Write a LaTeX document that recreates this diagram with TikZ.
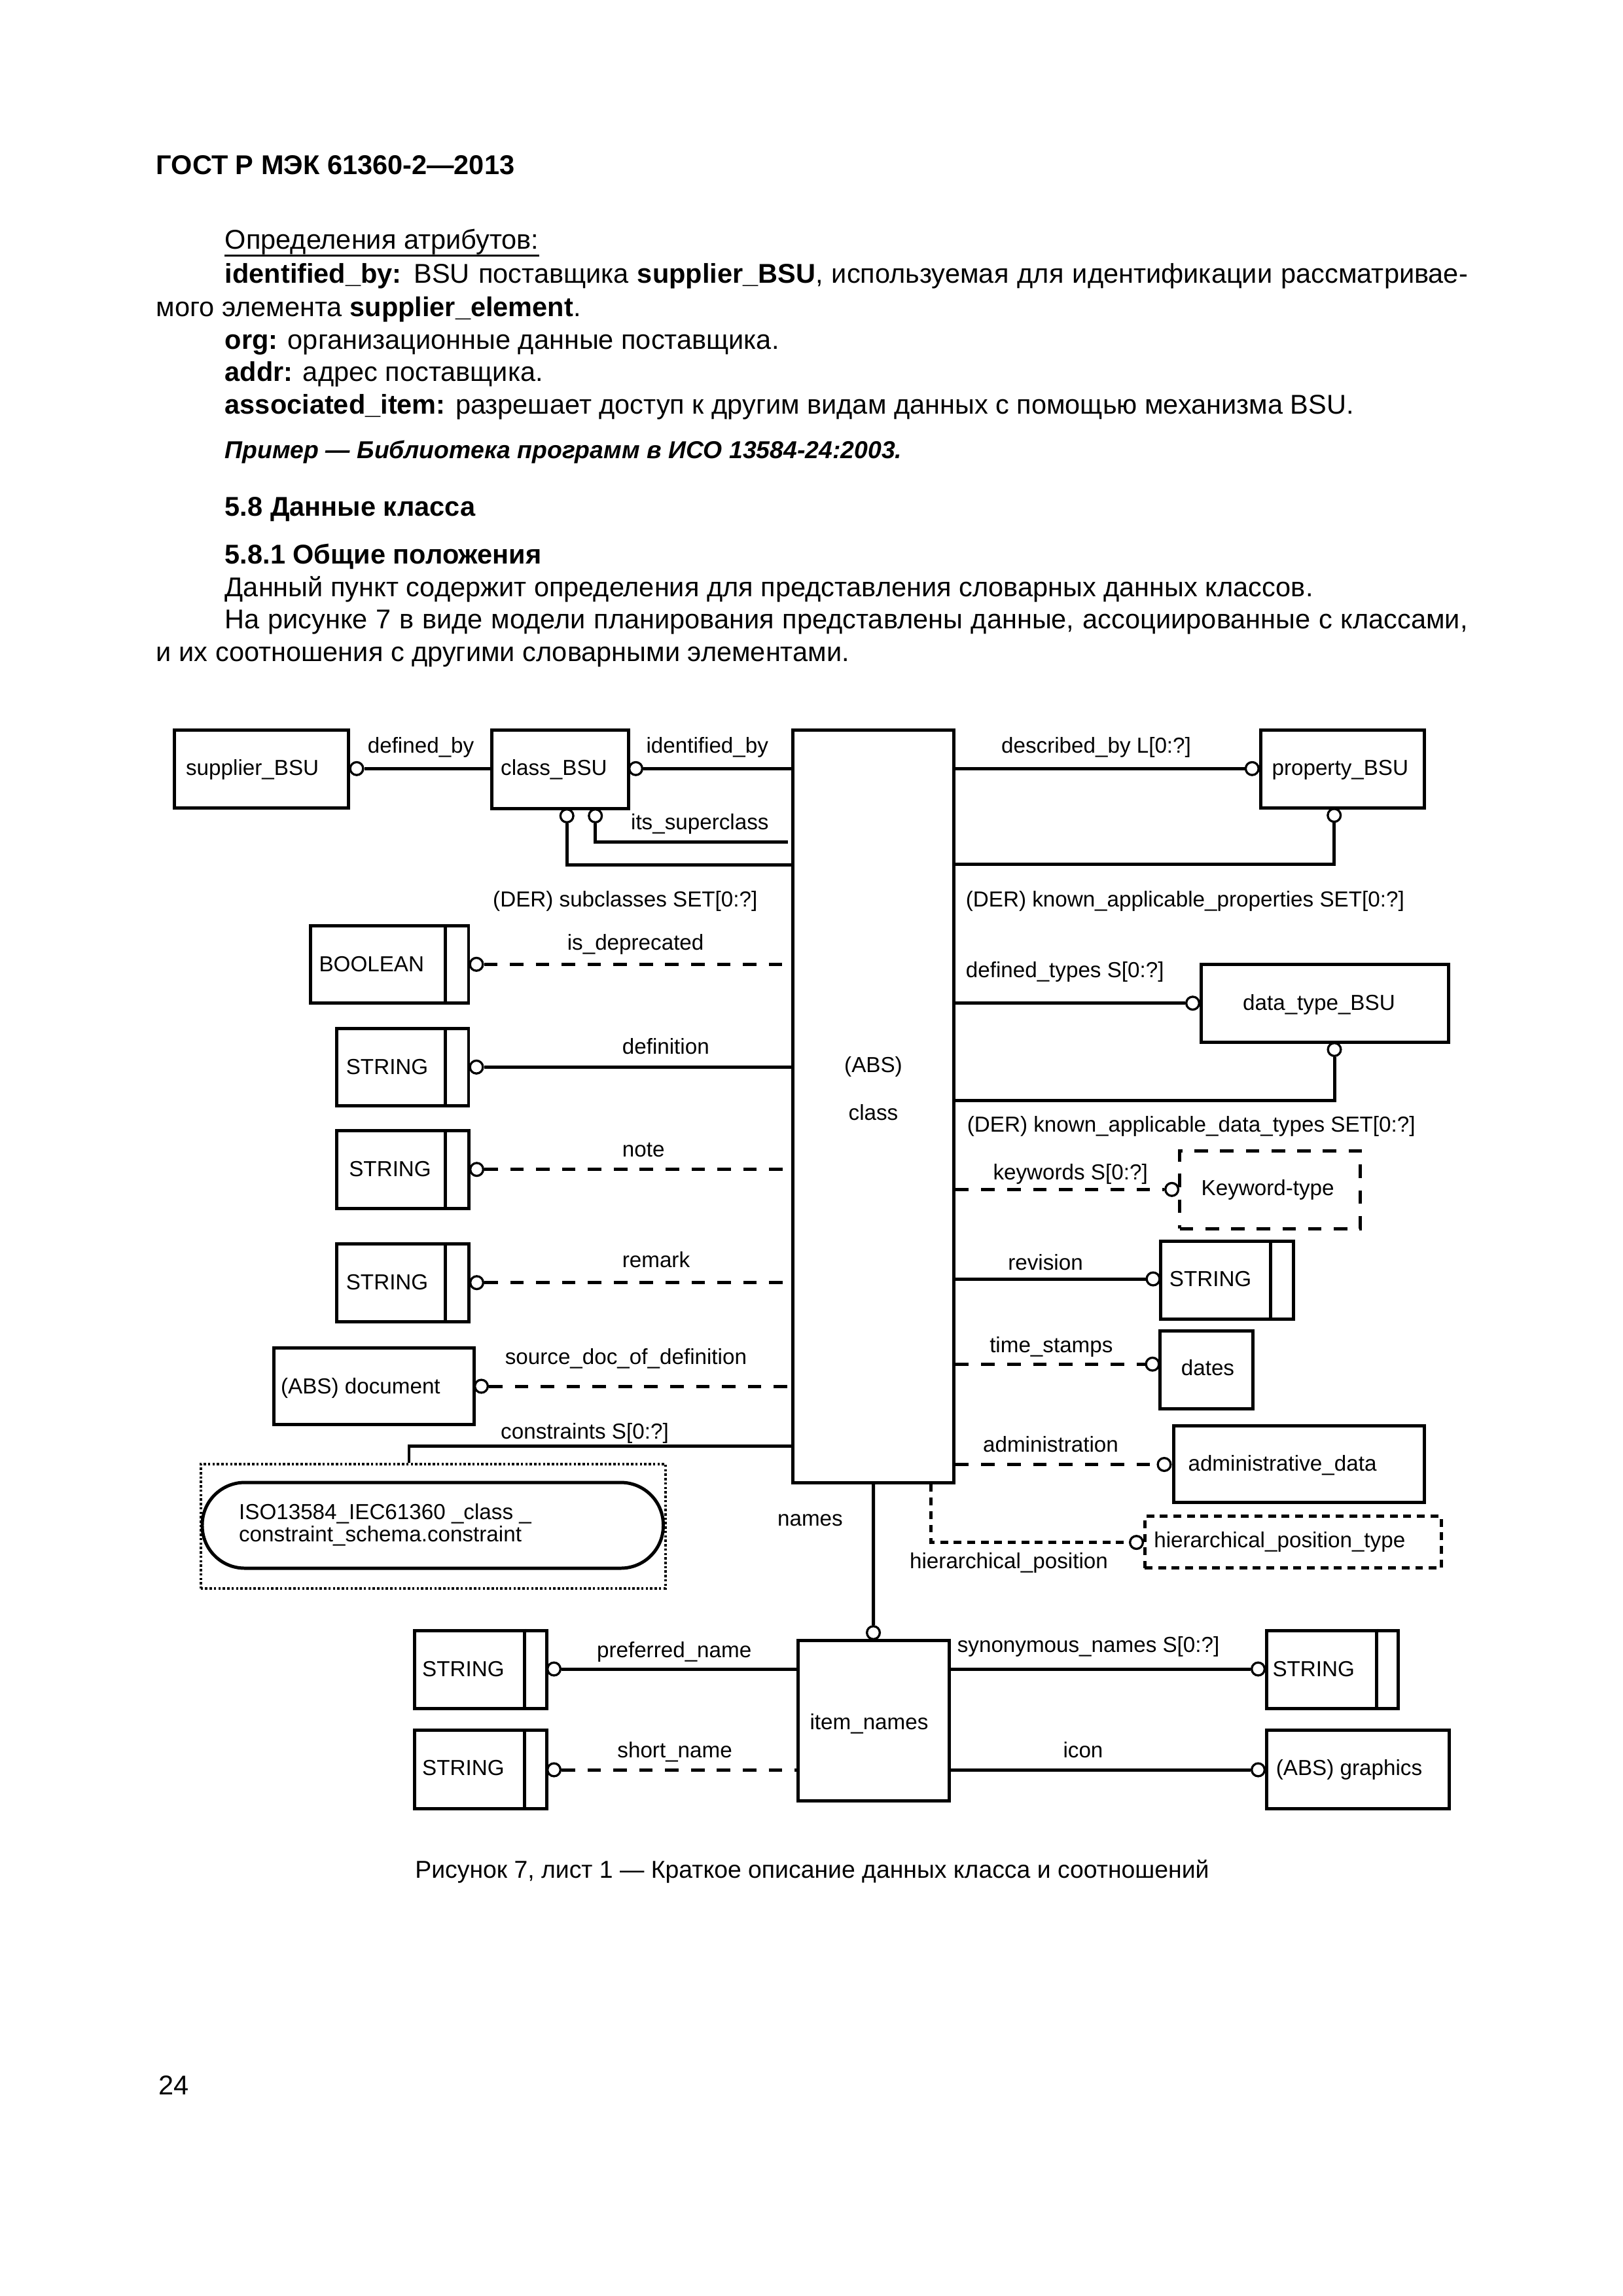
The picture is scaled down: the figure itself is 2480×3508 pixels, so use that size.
\documentclass[tikz,border=0pt]{standalone}
\usepackage{fontspec}
\setmainfont{Liberation Sans}
\usetikzlibrary{fit,calc}
\newcommand\dgfont{\fontsize{8}{9.6}\selectfont}
\newcommand\bdfont{\fontsize{10}{12}\selectfont}
\begin{document}
\begin{tikzpicture}[x=0.084667mm,y=-0.084667mm,
  ln/.style={line width=1.2pt},
  dln/.style={line width=1.2pt, dash pattern=on 1.75mm off 1.6mm},
  sdln/.style={line width=1.2pt, dash pattern=on 1mm off 0.75mm},
  ebox/.style={draw, line width=1.2pt, inner sep=0pt},
  dotbox/.style={draw, line width=1pt, inner sep=0pt, dash pattern=on 0.3mm off 0.27mm},
  kwbox/.style={draw, line width=1.2pt, inner sep=0pt, dash pattern=on 1.75mm off 1.57mm},
  hpbox/.style={draw, line width=1.2pt, inner sep=0pt, dash pattern=on 1mm off 0.75mm},
  circ/.style={circle, draw, line width=0.8pt, fill=white, minimum size=1.67mm, inner sep=0pt},
  lbl/.style={font=\dgfont, inner sep=0pt, anchor=base west},
  clbl/.style={font=\dgfont, inner sep=0pt, anchor=base},
  bt/.style={font=\bdfont, inner sep=0pt, anchor=base west}]
\useasboundingbox (0,0) rectangle (2480,3508);

% ---------------- body text ----------------
\node[bt, font=\bdfont\bfseries] (hdr) at (238,266) {ГОСТ Р МЭК 61360-2—2013};
\node[bt] (t1) at (343,380) {Определения атрибутов:};
\draw[line width=0.7pt] ([yshift=-0.9mm]t1.base west) -- ([yshift=-0.9mm]t1.base east);
\node[bt] (t2) at (343,432) {\makebox[160.78mm][s]{\textbf{identified\_by:} BSU поставщика \textbf{supplier\_BSU}, используемая для идентификации рассматривае-}};
\node[bt] (t3) at (238,483) {мого элемента \textbf{supplier\_element}.};
\node[bt] (t4) at (343,533) {\textbf{org:} организационные данные поставщика.};
\node[bt] (t5) at (343,582) {\textbf{addr:} адрес поставщика.};
\node[bt] (t6) at (343,632) {\textbf{associated\_item:} разрешает доступ к другим видам данных с помощью механизма BSU.};
\node[bt, font=\fontsize{9}{11}\selectfont\bfseries\itshape] (t7) at (343,700) {Пример — Библиотека программ в ИСО 13584-24:2003.};
\node[bt, font=\bdfont\bfseries] (t8) at (343,788) {5.8 Данные класса};
\node[bt, font=\bdfont\bfseries] (t9) at (343,861) {5.8.1 Общие положения};
\node[bt] (t10) at (343,911) {Данный пункт содержит определения для представления словарных данных классов.};
\node[bt] (t11) at (343,960) {\makebox[160.78mm][s]{На рисунке 7 в виде модели планирования представлены данные, ассоциированные с классами,}};
\node[bt] (t12) at (238,1010) {и их соотношения с другими словарными элементами.};

% ---------------- boxes ----------------
\node[ebox, fit={(266.7,1115) (532.7,1234)}] (sup) {};
\node[ebox, fit={(751,1115) (960,1235)}] (cbsu) {};
\node[ebox, fit={(1211.7,1115.7) (1457.3,2265)}] (cls) {};
\node[ebox, fit={(1926,1115) (2176.7,1234)}] (pbsu) {};
\node[ebox, fit={(1835,1473.3) (2213.3,1592)}] (dtb) {};
\node[ebox, fit={(474.3,1414.3) (716,1532.7)}] (bool) {};
\node[ebox, fit={(514.3,1571.7) (716,1689.8)}] (str1) {};
\node[ebox, fit={(514.6,1727.6) (716.8,1846.4)}] (str2) {};
\node[ebox, fit={(514.6,1900) (716.8,2019.9)}] (str3) {};
\node[ebox, fit={(418.3,2059.3) (724,2176.7)}] (doc) {};
\node[dotbox, fit={(306.7,2236.7) (1016.8,2426.7)}] (cbox) {};
\node[ebox, rounded corners=5.5mm, fit={(309,2265) (1013.5,2396)}] (stad) {};
\node[kwbox, fit={(1802.7,1758.2) (2078.6,1877)}] (kw) {};
\node[ebox, fit={(1773.9,1896.4) (1976.8,2015.3)}] (str4) {};
\node[ebox, fit={(1772.6,2033.7) (1914.5,2152.6)}] (dates) {};
\node[ebox, fit={(1793.3,2178) (2176.4,2295.4)}] (adm) {};
\node[hpbox, fit={(1749.1,2316.8) (2202.5,2395.9)}] (hpt) {};
\node[ebox, fit={(1219.3,2506.7) (1450,2751)}] (itn) {};
\node[ebox, fit={(633.5,2491.2) (835.2,2610.9)}] (str5) {};
\node[ebox, fit={(633.5,2643.5) (835.2,2763.4)}] (str6) {};
\node[ebox, fit={(1935,2491.2) (2136.8,2610.9)}] (str7) {};
\node[ebox, fit={(1935,2643.5) (2214.8,2763.4)}] (gr) {};

% inner bars of the simple-type boxes
\foreach \b/\w in {bool/38,str1/38,str2/39,str3/39,str4/37.5,str5/36,str6/36,str7/36}{
  \draw[ln] ($(\b.north east)+(-\w,0)$) -- ($(\b.south east)+(-\w,0)$);
}

% ---------------- box texts ----------------
\node[lbl] at (283.3,1184) {supplier\_BSU};
\node[lbl] at (764.4,1184) {class\_BSU};
\node[lbl] at (1942.7,1184) {property\_BSU};
\node[lbl] at (1898.3,1543) {data\_type\_BSU};
\node[clbl] at (1334.5,1638) {(ABS)};
\node[clbl] at (1334.5,1711) {class};
\node[lbl] at (486.7,1484) {BOOLEAN};
\node[lbl] at (528,1641) {STRING};
\node[lbl] at (532.5,1797) {STRING};
\node[lbl] at (528,1970) {STRING};
\node[lbl] at (428.3,2129) {(ABS) document};
\node[lbl] at (364.3,2321.7) {ISO13584\_IEC61360 \_class \_};
\node[lbl] at (364.3,2355) {constraint\_schema.constraint};
\node[lbl] at (1834.8,1826) {Keyword-type};
\node[lbl] at (1786,1965) {STRING};
\node[lbl] at (1804,2101.5) {dates};
\node[lbl] at (1814.7,2247) {administrative\_data};
\node[lbl] at (1762.5,2364.3) {hierarchical\_position\_type};
\node[clbl] at (1328,2642) {item\_names};
\node[lbl] at (644.4,2561) {STRING};
\node[lbl] at (644.4,2712) {STRING};
\node[lbl] at (1943.7,2561) {STRING};
\node[lbl] at (1949,2712) {(ABS) graphics};

% ---------------- circles ----------------
\node[circ] (csup) at (545,1174.3) {};
\node[circ] (ccb) at (971.5,1174.3) {};
\node[circ] (csub) at (866.2,1246.5) {};
\node[circ] (csuper) at (909.7,1246.5) {};
\node[circ] (cpb) at (1913.3,1174.3) {};
\node[circ] (cpb2) at (2038.7,1245.7) {};
\node[circ] (cdt) at (1822.5,1532.7) {};
\node[circ] (cdt2) at (2039,1603.5) {};
\node[circ] (cbool) at (728,1473.3) {};
\node[circ] (cdef) at (728,1630.3) {};
\node[circ] (cnote) at (728.5,1786.7) {};
\node[circ] (crem) at (728.5,1959.7) {};
\node[circ] (cdoc) at (735.5,2118) {};
\node[circ] (ckw) at (1790.6,1817.3) {};
\node[circ] (crev) at (1762,1954) {};
\node[circ] (cts) at (1761,2084.2) {};
\node[circ] (cadm) at (1779,2237.5) {};
\node[circ] (chp) at (1736.5,2356.6) {};
\node[circ] (cnm) at (1334.5,2494.5) {};
\node[circ] (cpref) at (846.5,2550) {};
\node[circ] (cshort) at (846.5,2704) {};
\node[circ] (csyn) at (1922.5,2550) {};
\node[circ] (cicon) at (1922.5,2704) {};

% ---------------- bend points ----------------
\coordinate (bsuper) at (909.7,1286.7);
\coordinate (bsub) at (866.2,1321.1);
\coordinate (bpb) at (2038.7,1320.7);
\coordinate (bdt) at (2039,1681.6);
\coordinate (bcon) at (625,2209.3);
\coordinate (bhp) at (1422.5,2356.6);

% ---------------- connectors ----------------
\draw[ln] (csup.east) -- (cbsu.west |- csup.east);
\draw[ln] (ccb.east) -- (cls.west |- ccb.east);
\draw[ln, shorten >=0.45mm] (csuper.south) -- (bsuper) -- (bsuper -| cls.west);
\draw[ln] (csub.south) -- (bsub) -- (bsub -| cls.west);
\draw[ln] (cls.east |- cpb.west) -- (cpb.west);
\draw[ln] (cpb2.south) -- (bpb) -- (bpb -| cls.east);
\draw[ln] (cls.east |- cdt.west) -- (cdt.west);
\draw[ln] (cdt2.south) -- (bdt) -- (bdt -| cls.east);
\draw[dln] (cbool.east) -- (cls.west |- cbool.east);
\draw[ln] (cdef.east) -- (cls.west |- cdef.east);
\draw[dln] (cnote.east) -- (cls.west |- cnote.east);
\draw[dln] (crem.east) -- (cls.west |- crem.east);
\draw[dln] (cdoc.east) -- (cls.west |- cdoc.east);
\draw[ln] (bcon -| cls.west) -- (bcon) -- (bcon |- cbox.north);
\draw[ln] (cls.south) -- (cnm.north);
\draw[sdln] (bhp |- cls.south) -- (bhp) -- (chp.west);
\draw[dln] (cls.east |- ckw.west) -- (ckw.west);
\draw[ln] (cls.east |- crev.west) -- (crev.west);
\draw[dln] (cls.east |- cts.west) -- (cts.west);
\draw[dln] (cls.east |- cadm.west) -- (cadm.west);
\draw[ln] (cpref.east) -- (itn.west |- cpref.east);
\draw[dln] (cshort.east) -- (itn.west |- cshort.east);
\draw[ln] (itn.east |- csyn.west) -- (csyn.west);
\draw[ln] (itn.east |- cicon.west) -- (cicon.west);

% ---------------- connector labels ----------------
\node[lbl] at (561,1150) {defined\_by};
\node[lbl] at (986.7,1150) {identified\_by};
\node[lbl] at (963.3,1267.5) {its\_superclass};
\node[lbl] at (752.4,1385) {(DER) subclasses SET[0:?]};
\node[lbl] at (1529.3,1150) {described\_by L[0:?]};
\node[lbl] at (1475,1385) {(DER) known\_applicable\_properties SET[0:?]};
\node[lbl] at (1475,1493) {defined\_types S[0:?]};
\node[lbl] at (1477,1729) {(DER) known\_applicable\_data\_types SET[0:?]};
\node[lbl] at (866,1451) {is\_deprecated};
\node[lbl] at (950,1610) {definition};
\node[lbl] at (950,1767) {note};
\node[lbl] at (950,1936) {remark};
\node[lbl] at (771,2084) {source\_doc\_of\_definition};
\node[lbl] at (764.4,2198.5) {constraints S[0:?]};
\node[lbl] at (1187.3,2331.7) {names};
\node[lbl] at (1389.3,2396.7) {hierarchical\_position};
\node[lbl] at (1516.7,1802) {keywords S[0:?]};
\node[lbl] at (1539.5,1940) {revision};
\node[lbl] at (1511.4,2066) {time\_stamps};
\node[lbl] at (1501.3,2218) {administration};
\node[lbl] at (911.2,2532.6) {preferred\_name};
\node[lbl] at (942.6,2685.5) {short\_name};
\node[lbl] at (1462,2524) {synonymous\_names S[0:?]};
\node[lbl] at (1623.7,2685.5) {icon};

% ---------------- caption and page number ----------------
\node[bt, font=\fontsize{9}{11}\selectfont] (cap) at (633.5,2869) {Рисунок 7, лист 1 — Краткое описание данных класса и соотношений};
\node[bt] (pg) at (242,3200) {24};
\end{tikzpicture}
\end{document}
